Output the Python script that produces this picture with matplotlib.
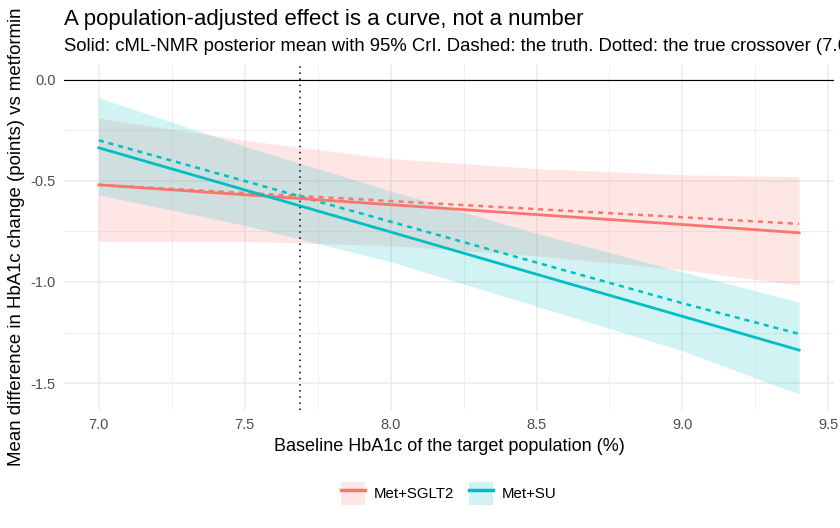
import numpy as np
import matplotlib
matplotlib.use("Agg")
import matplotlib.pyplot as plt
from matplotlib.patches import Patch
from matplotlib.lines import Line2D
from matplotlib.legend_handler import HandlerTuple

plt.rcParams['font.family'] = ['Liberation Sans', 'DejaVu Sans']
plt.rcParams['axes.unicode_minus'] = False

# baseline HbA1c grid
hba1c = [7.0, 7.5, 8.0, 8.5, 9.0, 9.4]

# Met+SGLT2
sglt2_mean = [-0.520, -0.569, -0.618, -0.667, -0.716, -0.757]
sglt2_true = [-0.520, -0.560, -0.600, -0.640, -0.680, -0.713]
sglt2_lo = [-0.80, -0.80, -0.82, -0.87, -0.94, -1.015]
sglt2_hi = [-0.19, -0.30, -0.39, -0.44, -0.47, -0.48]

# Met+SU
su_mean = [-0.337, -0.545, -0.753, -0.962, -1.170, -1.337]
su_true = [-0.300, -0.501, -0.702, -0.904, -1.105, -1.257]
su_lo = [-0.57, -0.72, -0.90, -1.12, -1.34, -1.555]
su_hi = [-0.09, -0.33, -0.55, -0.76, -0.95, -1.10]

crossover = 7.69

col_sglt2 = '#F8766D'
col_su = '#00BFC4'

fig = plt.figure(figsize=(8.4, 5.28), dpi=100)
ax = fig.add_axes([0.076, 0.2235, 0.917, 0.6555])

# ribbons
ax.fill_between(hba1c, sglt2_lo, sglt2_hi, color=col_sglt2, alpha=0.18, linewidth=0)
ax.fill_between(hba1c, su_lo, su_hi, color=col_su, alpha=0.18, linewidth=0)

ax.axhline(0, color='black', linewidth=0.8, zorder=3)
ax.axvline(crossover, color='black', linestyle=(0, (1, 3)), linewidth=1.1, zorder=3)

ax.plot(hba1c, sglt2_true, color=col_sglt2, linestyle=(0, (2, 2)), linewidth=1.8, zorder=4)
ax.plot(hba1c, su_true, color=col_su, linestyle=(0, (2, 2)), linewidth=1.8, zorder=4)
ax.plot(hba1c, sglt2_mean, color=col_sglt2, linewidth=2.0, zorder=5)
ax.plot(hba1c, su_mean, color=col_su, linewidth=2.0, zorder=5)

ax.set_xlim(6.88, 9.52)
ax.set_ylim(-1.633, 0.078)
ax.set_xticks([7.0, 7.5, 8.0, 8.5, 9.0, 9.5])
ax.set_xticklabels(['7.0', '7.5', '8.0', '8.5', '9.0', '9.5'])
ax.set_xticks([7.25, 7.75, 8.25, 8.75, 9.25], minor=True)
ax.set_yticks([0.0, -0.5, -1.0, -1.5])
ax.set_yticklabels(['0.0', '-0.5', '-1.0', '-1.5'])
ax.set_yticks([-0.25, -0.75, -1.25], minor=True)

ax.grid(True, which='major', color='#EBEBEB', linewidth=1.1)
ax.grid(True, which='minor', color='#EBEBEB', linewidth=0.55)
ax.set_axisbelow(True)
ax.tick_params(which='both', length=0, labelsize=10.5, labelcolor='#4D4D4D', pad=6)
for s in ax.spines.values():
    s.set_visible(False)

ax.set_xlabel('Baseline HbA1c of the target population (%)', fontsize=13, labelpad=4)
ax.set_ylabel('Mean difference in HbA1c change (points) vs metformin', fontsize=13.4, labelpad=4)

fig.text(0.076, 0.963, 'A population-adjusted effect is a curve, not a number',
         fontsize=16, va='center', ha='left')
# subtitle runs past the right edge, as in the source figure
fig.text(0.076, 0.912,
         'Solid: cML-NMR posterior mean with 95% CrI. Dashed: the truth. Dotted: the true crossover (7.69)',
         fontsize=13.3, va='center', ha='left')

handles = [
    (Patch(facecolor=col_sglt2, alpha=0.18, linewidth=0), Line2D([], [], color=col_sglt2, linewidth=2.5)),
    (Patch(facecolor=col_su, alpha=0.18, linewidth=0), Line2D([], [], color=col_su, linewidth=2.5)),
]
fig.legend(handles, ['Met+SGLT2', 'Met+SU'], loc='center', bbox_to_anchor=(0.534, 0.066),
           ncol=2, frameon=False, fontsize=10.8,
           handler_map={tuple: HandlerTuple(ndivide=1)},
           handlelength=1.6, handleheight=2.0, handletextpad=0.6, columnspacing=1.0)

fig.savefig('out.png', dpi=100)
